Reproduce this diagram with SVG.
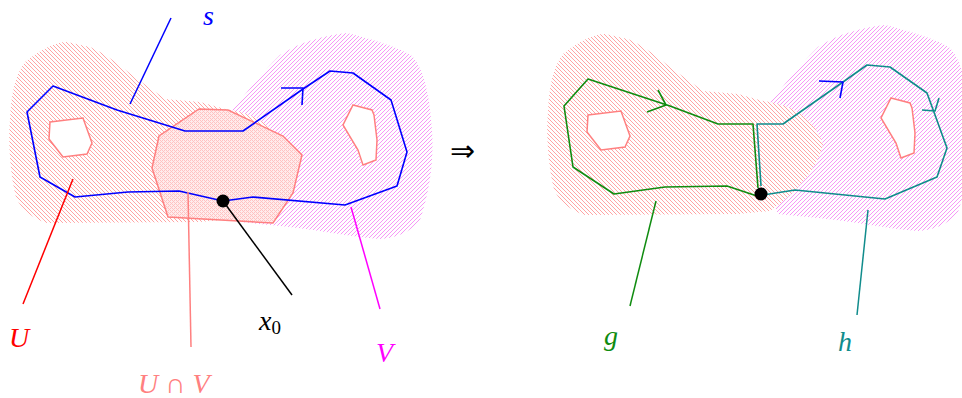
<svg xmlns="http://www.w3.org/2000/svg" width="962" height="398" viewBox="0 0 962 398">
<defs>
<pattern id="pU" width="4" height="4" patternUnits="userSpaceOnUse">
<rect width="4" height="4" fill="#fff"/>
<path d="M0,0h1v1h-1z M1,1h1v1h-1z M2,2h1v1h-1z M3,3h1v1h-1z" fill="#ffa4a4" shape-rendering="crispEdges"/>
</pattern>
<pattern id="pV" width="4" height="4" patternUnits="userSpaceOnUse">
<path d="M2,0h1v1h-1z M1,1h1v1h-1z M0,2h1v1h-1z M3,3h1v1h-1z" fill="#f698f6" shape-rendering="crispEdges"/>
</pattern>
<pattern id="pI" width="4" height="4" patternUnits="userSpaceOnUse">
<rect width="4" height="4" fill="#ffecec"/>
<path d="M0,0h1v1h-1z M1,1h1v1h-1z M2,2h1v1h-1z M3,3h1v1h-1z M2,0h1v1h-1z M0,2h1v1h-1z" fill="#ffc2c2" shape-rendering="crispEdges"/>
</pattern>
</defs>
<style>
.ln{fill:none;stroke-width:1.5}
.loop{fill:none;stroke-width:1.6;stroke-linejoin:round}
.vreg{fill:url(#pV)}
.ureg{fill:url(#pU)}
.hole{fill:#fff;stroke:#ff8080;stroke-width:1.5}
</style>

<g id="left-diagram">
<g id="V-left"><path class="vreg" d="M232,110 C245,95 260,75 280,55 C300,42 325,35 347,33 C375,40 400,48 412,56 C425,70 430,100 432,130 C434,160 430,190 420,220 C410,233 395,238 380,239 C350,237 310,228 270,225 L240,222 C230,200 225,150 232,110 Z"/></g>
<g id="U-left"><path class="ureg" d="M25,62 C40,50 55,42 67,42 L90,47 C110,55 130,75 150,88 L165,99 L200,102 L225,109 C255,113 275,125 285,152 C280,175 260,200 232,219 L200,222 L47,223 C30,218 17,205 15,193 C10,170 8,140 10,120 C11,95 15,75 25,62 Z"/></g>
<g id="holes-left">
<polygon class="hole" points="50,122 83,118 92,143 87,154 63,157 49,139"/>
<polygon class="hole" points="353,105 372,110 374,115 377,140 376,160 363,165 358,150 343,125"/>
</g>
<g id="U-cap-V">
<polygon points="199,109 228,110 283,136 302,155 293,193 273,223 168,217 152,168 159,136" fill="url(#pI)" stroke="#ff8080" stroke-width="1.5"/>
</g>
<g id="loop-s">
<polygon class="loop" stroke="#0000ff" points="53,86 117,110 185,131 243,131 303,89 330,71 353,73 391,100 407,152 397,186 345,205 253,197 223,201 179,191 128,192 75,197 40,177 27,112"/>
<path class="loop" stroke="#0000ff" d="M281,88 L303,88 L302,105"/>
</g>
<g id="x0-dot"><circle cx="223" cy="201" r="6.5" fill="#000"/></g>
</g>

<g id="right-diagram">
<g id="V-right" transform="translate(538,-8)"><path class="vreg" d="M232,110 C245,95 260,75 280,55 C300,42 325,35 347,33 C375,40 400,48 412,56 C425,70 430,100 432,130 C434,160 430,190 420,220 C410,233 395,238 380,239 C350,237 310,228 270,225 L240,222 C230,200 225,150 232,110 Z"/></g>
<g id="U-right" transform="translate(538,-8)"><path class="ureg" d="M25,62 C40,50 55,42 67,42 L90,47 C110,55 130,75 150,88 L165,99 L200,102 L225,109 C255,113 275,125 285,152 C280,175 260,200 232,219 L200,222 L47,223 C30,218 17,205 15,193 C10,170 8,140 10,120 C11,95 15,75 25,62 Z"/></g>
<g id="holes-right" transform="translate(538,-7)">
<polygon class="hole" points="50,122 83,118 92,143 87,154 63,157 49,139"/>
<polygon class="hole" points="353,105 372,110 374,115 377,140 376,160 363,165 358,150 343,125"/>
</g>
<g id="loop-g">
<polyline class="loop" stroke="#108c10" points="758,188 753,124 718,124 670,106 588,79 564,106 573,167 614,194 665,187 727,186 760,197"/>
<path class="loop" stroke="#108c10" d="M658,90 L666,105 L647,112"/>
</g>
<g id="loop-h">
<polyline class="loop" stroke="#108c8c" points="761,186 757,124 783,124 843,82 867,65 890,67 927,93 947,148 937,177 885,199 795,190 763,195"/>
<path class="loop" stroke="#0000ff" d="M819,81 L843,82 L840,98"/>
<path class="loop" stroke="#108c8c" d="M922,110 L935,111 L939,98"/>
</g>
<g id="x0-dot-right"><circle cx="761" cy="194" r="6.5" fill="#000"/></g>
</g>

<g id="connectors">
<path class="ln" stroke="#0000ff" d="M130,104 L171,18"/>
<path class="ln" stroke="#ff0000" d="M73,179 L23,304"/>
<path class="ln" stroke="#ff8080" d="M188,192 L191,347"/>
<path class="ln" stroke="#000" d="M223,201 L292,295"/>
<path class="ln" stroke="#ff00ff" d="M351,207 L380,309"/>
<path class="ln" stroke="#108c10" d="M656,201 L630,306"/>
<path class="ln" stroke="#108c8c" d="M868,210 L857,315"/>
</g>

<g id="labels" font-family="Liberation Serif, DejaVu Serif, serif" font-style="italic" font-size="28">
<text x="203" y="25" fill="#0000ff">s</text>
<text x="9" y="347" fill="#ff0000">U</text>
<text x="138" y="393" fill="#ff8080">U ∩ V</text>
<text x="259" y="330" fill="#000">x<tspan font-style="normal" font-size="19" dy="4">0</tspan></text>
<text x="376" y="362" fill="#ff00ff">V</text>
<text x="604" y="345" fill="#108c10">g</text>
<text x="838" y="351" fill="#108c8c">h</text>
<text x="450" y="161" font-family="DejaVu Sans, sans-serif" font-style="normal" font-size="30" fill="#000">⇒</text>
</g>
</svg>
